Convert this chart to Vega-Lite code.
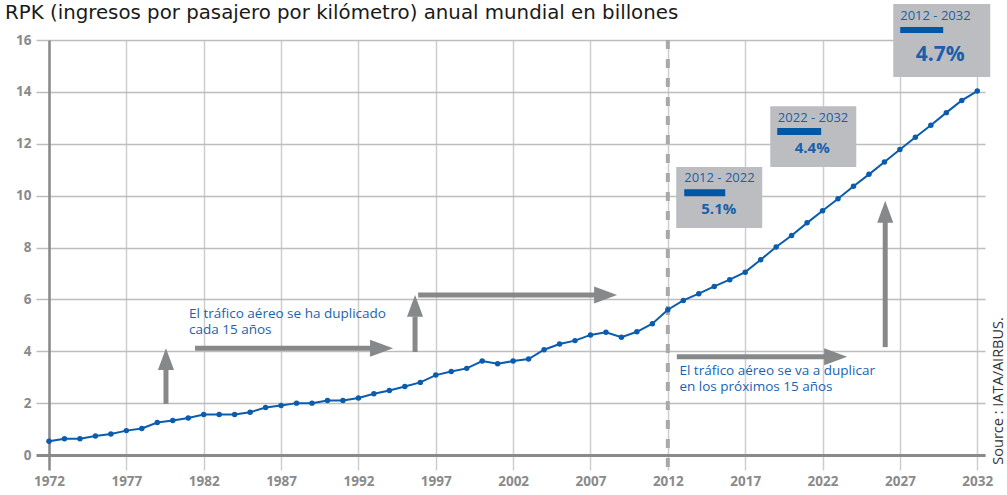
{
  "$schema": "https://vega.github.io/schema/vega-lite/v6.json",
  "width": 936,
  "height": 415,
  "autosize": "none",
  "padding": {"left": 49, "top": 40, "right": 22, "bottom": 40},
  "title": {
    "text": "RPK (ingresos por pasajero por kilómetro) anual mundial en billones",
    "anchor": "start",
    "frame": "group",
    "dx": -44,
    "offset": -19,
    "fontSize": 19.8,
    "fontWeight": "normal",
    "font": "DejaVu Sans",
    "color": "#1a1a1a"
  },
  "config": {"view": {"stroke": null}, "font": "Open Sans"},
  "datasets": {
    "rpk": [
      {"year": 1972, "value": 0.53}, {"year": 1973, "value": 0.63}, {"year": 1974, "value": 0.63},
      {"year": 1975, "value": 0.73}, {"year": 1976, "value": 0.81}, {"year": 1977, "value": 0.94},
      {"year": 1978, "value": 1.02}, {"year": 1979, "value": 1.25}, {"year": 1980, "value": 1.33},
      {"year": 1981, "value": 1.43}, {"year": 1982, "value": 1.56}, {"year": 1983, "value": 1.56},
      {"year": 1984, "value": 1.56}, {"year": 1985, "value": 1.65}, {"year": 1986, "value": 1.83},
      {"year": 1987, "value": 1.91}, {"year": 1988, "value": 2.0}, {"year": 1989, "value": 2.0},
      {"year": 1990, "value": 2.1}, {"year": 1991, "value": 2.1}, {"year": 1992, "value": 2.2},
      {"year": 1993, "value": 2.36}, {"year": 1994, "value": 2.49}, {"year": 1995, "value": 2.64},
      {"year": 1996, "value": 2.8}, {"year": 1997, "value": 3.08}, {"year": 1998, "value": 3.22},
      {"year": 1999, "value": 3.34}, {"year": 2000, "value": 3.62}, {"year": 2001, "value": 3.52},
      {"year": 2002, "value": 3.62}, {"year": 2003, "value": 3.7}, {"year": 2004, "value": 4.06},
      {"year": 2005, "value": 4.28}, {"year": 2006, "value": 4.41}, {"year": 2007, "value": 4.63},
      {"year": 2008, "value": 4.73}, {"year": 2009, "value": 4.54}, {"year": 2010, "value": 4.75},
      {"year": 2011, "value": 5.06}, {"year": 2012, "value": 5.6}, {"year": 2013, "value": 5.96},
      {"year": 2014, "value": 6.22}, {"year": 2015, "value": 6.5}, {"year": 2016, "value": 6.76},
      {"year": 2017, "value": 7.05}, {"year": 2018, "value": 7.53}, {"year": 2019, "value": 8.02},
      {"year": 2020, "value": 8.46}, {"year": 2021, "value": 8.95}, {"year": 2022, "value": 9.42},
      {"year": 2023, "value": 9.88}, {"year": 2024, "value": 10.36}, {"year": 2025, "value": 10.82},
      {"year": 2026, "value": 11.3}, {"year": 2027, "value": 11.78}, {"year": 2028, "value": 12.25},
      {"year": 2029, "value": 12.71}, {"year": 2030, "value": 13.2}, {"year": 2031, "value": 13.67},
      {"year": 2032, "value": 14.03}
    ],
    "divider": [{"year": 2012, "value": 16, "value2": -0.65}],
    "arrows": [
      {"year": 1979.56, "value": 1.97, "year2": 1979.56, "value2": 3.3},
      {"year": 1981.44, "value": 4.12, "year2": 1992.85, "value2": 4.12},
      {"year": 1995.66, "value": 3.97, "year2": 1995.66, "value2": 5.34},
      {"year": 1995.86, "value": 6.17, "year2": 2007.34, "value2": 6.17},
      {"year": 2012.58, "value": 3.79, "year2": 2022.2, "value2": 3.79},
      {"year": 2026.05, "value": 4.16, "year2": 2026.05, "value2": 9.0}
    ],
    "heads": [
      {"dir": "up", "year": 1979.56, "value": 4.12},
      {"dir": "right", "year": 1994.24, "value": 4.12},
      {"dir": "up", "year": 1995.66, "value": 6.17},
      {"dir": "right", "year": 2008.72, "value": 6.17},
      {"dir": "right", "year": 2023.59, "value": 3.79},
      {"dir": "up", "year": 2026.05, "value": 9.8}
    ],
    "boxes": [
      {"year": 2012.54, "year2": 2018.1, "value": 11.1, "value2": 8.75},
      {"year": 2018.62, "year2": 2024.18, "value": 13.45, "value2": 11.1},
      {"year": 2026.57, "year2": 2032.84, "value": 17.39, "value2": 14.57}
    ],
    "bars": [
      {"year": 2013.06, "year2": 2015.71, "value": 10.25, "value2": 9.98},
      {"year": 2019.07, "year2": 2021.91, "value": 12.61, "value2": 12.34},
      {"year": 2027.02, "year2": 2029.8, "value": 16.5, "value2": 16.27}
    ],
    "periods": [
      {"year": 2013.06, "value": 10.68, "text": "2012 - 2022"},
      {"year": 2019.11, "value": 12.99, "text": "2022 - 2032"},
      {"year": 2027.02, "value": 16.92, "text": "2012 - 2032"}
    ],
    "rates": [
      {"year": 2015.29, "value": 9.48, "text": "5.1%"},
      {"year": 2021.33, "value": 11.83, "text": "4.4%"}
    ],
    "mainRate": [{"year": 2029.61, "value": 15.42, "text": "4.7%"}],
    "notes": [
      {"year": 1981.05, "value": 5.28, "text": "El tráfico aéreo se ha duplicado\ncada 15 años"},
      {"year": 2012.75, "value": 3.08, "text": "El tráfico aéreo se va a duplicar\nen los próximos 15 años"}
    ],
    "source": [{"year": 2033.42, "value": 2.47, "text": "Source : IATA/AIRBUS."}]
  },
  "encoding": {
    "x": {
      "field": "year",
      "type": "quantitative",
      "title": null,
      "scale": {"domain": [1972, 2032.5], "nice": false, "zero": false},
      "axis": {
        "values": [1972, 1977, 1982, 1987, 1992, 1997, 2002, 2007, 2012, 2017, 2022, 2027, 2032],
        "format": "d",
        "grid": true,
        "gridColor": "#cdcdcd",
        "gridWidth": 1.5,
        "tickSize": 15,
        "tickColor": {"condition": {"test": "datum.value === 1972", "value": "#88898b"}, "value": "#cdcdcd"},
        "tickWidth": {"condition": {"test": "datum.value === 1972", "value": 2.5}, "value": 1.5},
        "domainColor": "#88898b",
        "domainWidth": 3,
        "labelFont": "Open Sans",
        "labelFontWeight": "bold",
        "labelFontSize": 13.5,
        "labelColor": "#8a8a8a",
        "labelPadding": 4,
        "labelFlush": false,
        "labelOverlap": false
      }
    },
    "y": {
      "field": "value",
      "type": "quantitative",
      "title": null,
      "scale": {"domain": [0, 16], "nice": false},
      "axis": {
        "values": [0, 2, 4, 6, 8, 10, 12, 14, 16],
        "grid": true,
        "gridColor": "#bdbdbd",
        "gridWidth": 1.5,
        "tickSize": 13,
        "tickColor": {"condition": {"test": "datum.value === 0", "value": "#88898b"}, "value": "#bdbdbd"},
        "tickWidth": {"condition": {"test": "datum.value === 0", "value": 3}, "value": 1.5},
        "domainColor": "#88898b",
        "domainWidth": 2.5,
        "labelFont": "Open Sans",
        "labelFontWeight": "bold",
        "labelFontSize": 13.5,
        "labelColor": "#8a8a8a",
        "labelPadding": 5,
        "labelFlush": false,
        "labelOverlap": false
      }
    }
  },
  "layer": [
    {
      "data": {"name": "divider"},
      "mark": {"type": "rule", "color": "#a8a9ab", "strokeWidth": 4, "strokeDash": [9, 10]},
      "encoding": {"y2": {"field": "value2"}}
    },
    {
      "data": {"name": "arrows"},
      "mark": {"type": "rule", "color": "#87888a", "strokeWidth": 5},
      "encoding": {"x2": {"field": "year2"}, "y2": {"field": "value2"}}
    },
    {
      "data": {"name": "heads"},
      "transform": [{"filter": "datum.dir === 'up'"}],
      "mark": {"type": "point", "filled": true, "opacity": 1, "color": "#87888a", "size": 529, "strokeWidth": 0, "shape": "M-0.7,1.9L0,0L0.7,1.9Z"}
    },
    {
      "data": {"name": "heads"},
      "transform": [{"filter": "datum.dir === 'right'"}],
      "mark": {"type": "point", "filled": true, "opacity": 1, "color": "#87888a", "size": 529, "strokeWidth": 0, "shape": "M-2,-0.74L0,0L-2,0.74Z"}
    },
    {
      "data": {"name": "rpk"},
      "mark": {"type": "line", "color": "#0a5cae", "strokeWidth": 2, "point": {"filled": true, "size": 30, "color": "#0a5cae", "opacity": 1}}
    },
    {
      "data": {"name": "boxes"},
      "mark": {"type": "rect", "color": "#bcbdc0"},
      "encoding": {"x2": {"field": "year2"}, "y2": {"field": "value2"}}
    },
    {
      "data": {"name": "bars"},
      "mark": {"type": "rect", "color": "#0057a6"},
      "encoding": {"x2": {"field": "year2"}, "y2": {"field": "value2"}}
    },
    {
      "data": {"name": "periods"},
      "mark": {"type": "text", "align": "left", "baseline": "middle", "fontSize": 13, "color": "#1b5faa", "font": "Open Sans"},
      "encoding": {"text": {"field": "text"}}
    },
    {
      "data": {"name": "rates"},
      "mark": {"type": "text", "align": "center", "baseline": "middle", "fontSize": 15, "fontWeight": "bold", "color": "#1b5faa", "font": "Open Sans"},
      "encoding": {"text": {"field": "text"}}
    },
    {
      "data": {"name": "mainRate"},
      "mark": {"type": "text", "align": "center", "baseline": "middle", "fontSize": 21, "fontWeight": "bold", "color": "#1b5faa", "font": "Open Sans"},
      "encoding": {"text": {"field": "text"}}
    },
    {
      "data": {"name": "notes"},
      "mark": {"type": "text", "align": "left", "baseline": "alphabetic", "fontSize": 13.5, "lineHeight": 16, "lineBreak": "\n", "color": "#1764b4", "font": "Open Sans"},
      "encoding": {"text": {"field": "text"}}
    },
    {
      "data": {"name": "source"},
      "mark": {"type": "text", "align": "center", "baseline": "middle", "fontSize": 14.5, "angle": 270, "color": "#333333", "font": "Open Sans"},
      "encoding": {"text": {"field": "text"}}
    }
  ]
}
